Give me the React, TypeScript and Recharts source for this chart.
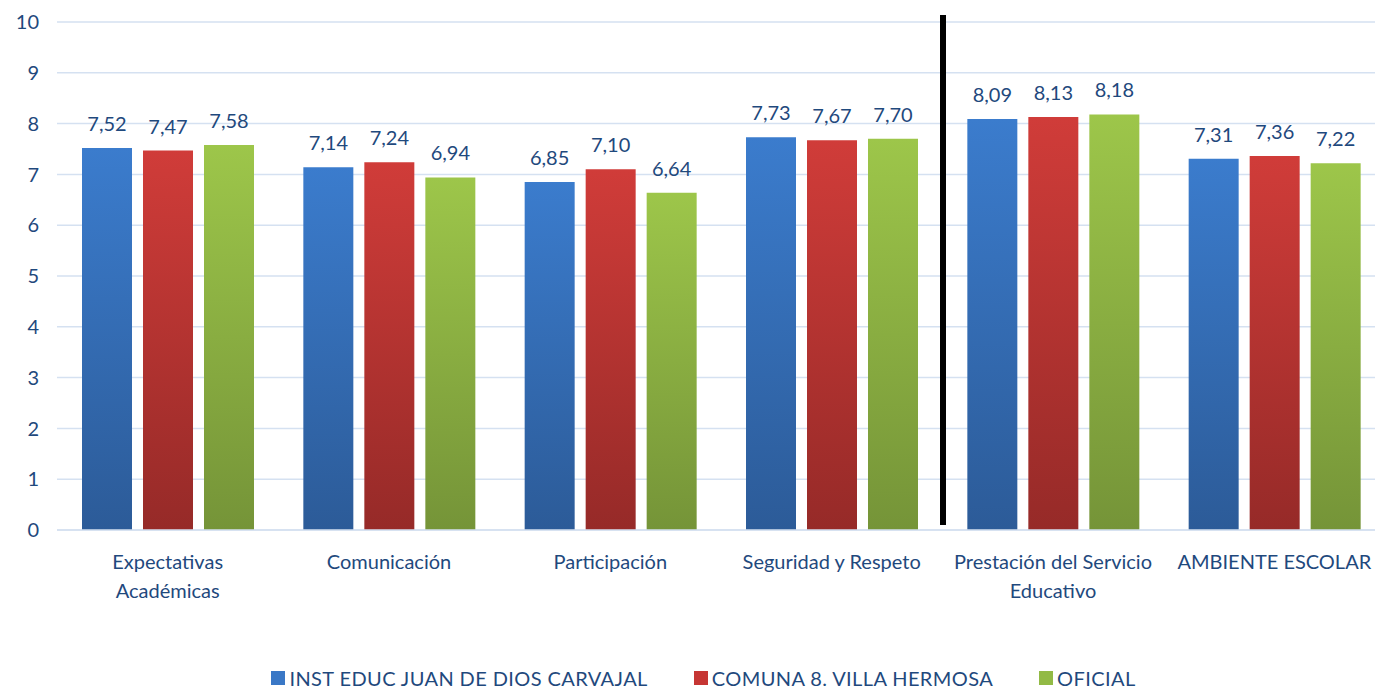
import { BarChart, Bar, XAxis, YAxis, CartesianGrid, LabelList, Text } from "recharts"

const categories = [
  "Expectativas\nAcadémicas",
  "Comunicación",
  "Participación",
  "Seguridad y Respeto",
  "Prestación del Servicio\nEducativo",
  "AMBIENTE ESCOLAR",
]
const instEduc = [7.52, 7.14, 6.85, 7.73, 8.09, 7.31]
const comuna8 = [7.47, 7.24, 7.1, 7.67, 8.13, 7.36]
const oficial = [7.58, 6.94, 6.64, 7.7, 8.18, 7.22]
const yTicks = [0, 1, 2, 3, 4, 5, 6, 7, 8, 9, 10]

const seriesNames = ["INST EDUC JUAN DE DIOS CARVAJAL", "COMUNA 8. VILLA HERMOSA", "OFICIAL"]

const data = categories.map((c, i) => ({
  name: c,
  inst: instEduc[i],
  comuna: comuna8[i],
  oficial: oficial[i],
}))

const FONT = "Lato, 'Liberation Sans', sans-serif"
const TEXT = "#1F497D"

const fmt = (v: any) => Number(v).toFixed(2).replace(".", ",")

const CategoryTick = (props: any) => {
  const { x, y, payload } = props
  const lines = String(payload.value).split("\n")
  return (
    <g>
      {lines.map((l, i) => (
        <Text
          key={i}
          x={x}
          y={y + 24 + i * 29}
          textAnchor="middle"
          verticalAnchor="middle"
          fontSize={20}
          fill={TEXT}
          fontFamily={FONT}
        >
          {l}
        </Text>
      ))}
    </g>
  )
}

const legendColors = ["#3A78C6", "#C63634", "#92BA45"]

const App = () => {
  return (
    <div
      style={{
        position: "absolute",
        left: 0,
        top: 0,
        width: 1375,
        height: 690,
        overflow: "hidden",
        background: "#fff",
        fontFamily: FONT,
      }}
    >
      <BarChart
        width={1385}
        height={690}
        data={data}
        margin={{ top: 22, right: 0, left: 0, bottom: 0 }}
        barSize={50}
        barGap={11}
      >
        <defs>
          <linearGradient id="gBlue" x1="0" y1="0" x2="0" y2="1">
            <stop offset="0%" stopColor="#3B7CCD" />
            <stop offset="100%" stopColor="#2C5B98" />
          </linearGradient>
          <linearGradient id="gRed" x1="0" y1="0" x2="0" y2="1">
            <stop offset="0%" stopColor="#D03C39" />
            <stop offset="100%" stopColor="#962A28" />
          </linearGradient>
          <linearGradient id="gGreen" x1="0" y1="0" x2="0" y2="1">
            <stop offset="0%" stopColor="#9DC64A" />
            <stop offset="100%" stopColor="#759438" />
          </linearGradient>
        </defs>
        <CartesianGrid vertical={false} stroke="#D5E1F1" strokeWidth={1.5} />
        <XAxis
          dataKey="name"
          height={160}
          axisLine={{ stroke: "#D5E1F1", strokeWidth: 1.5 }}
          tickLine={false}
          interval={0}
          tick={<CategoryTick />}
        />
        <YAxis
          width={57}
          domain={[0, 10]}
          ticks={yTicks}
          axisLine={false}
          tickLine={false}
          tickSize={0}
          tickMargin={18}
          tick={{ fontSize: 20, fill: TEXT, fontFamily: FONT }}
        />
        <Bar dataKey="inst" fill="url(#gBlue)" isAnimationActive={false}>
          <LabelList dataKey="inst" position="top" offset={17} formatter={fmt} fill={TEXT} fontSize={20} fontFamily={FONT} />
        </Bar>
        <Bar dataKey="comuna" fill="url(#gRed)" isAnimationActive={false}>
          <LabelList dataKey="comuna" position="top" offset={17} formatter={fmt} fill={TEXT} fontSize={20} fontFamily={FONT} />
        </Bar>
        <Bar dataKey="oficial" fill="url(#gGreen)" isAnimationActive={false}>
          <LabelList dataKey="oficial" position="top" offset={17} formatter={fmt} fill={TEXT} fontSize={20} fontFamily={FONT} />
        </Bar>
      </BarChart>
      {/* divider line between groups */}
      <div
        style={{
          position: "absolute",
          left: 940,
          top: 15,
          width: 6,
          height: 510,
          background: "#000",
        }}
      />
      <div
        style={{
          position: "absolute",
          left: 16,
          top: 667,
          width: 1375,
          display: "flex",
          justifyContent: "center",
          gap: 46,
          fontSize: 20,
          letterSpacing: 0.4,
          color: TEXT,
          lineHeight: "22px",
        }}
      >
        {seriesNames.map((n, i) => (
          <div key={n} style={{ display: "flex", alignItems: "center" }}>
            <span
              style={{
                display: "inline-block",
                width: 14,
                height: 14,
                background: legendColors[i],
                marginRight: 4,
              }}
            />
            {n}
          </div>
        ))}
      </div>
    </div>
  )
}

export default App
